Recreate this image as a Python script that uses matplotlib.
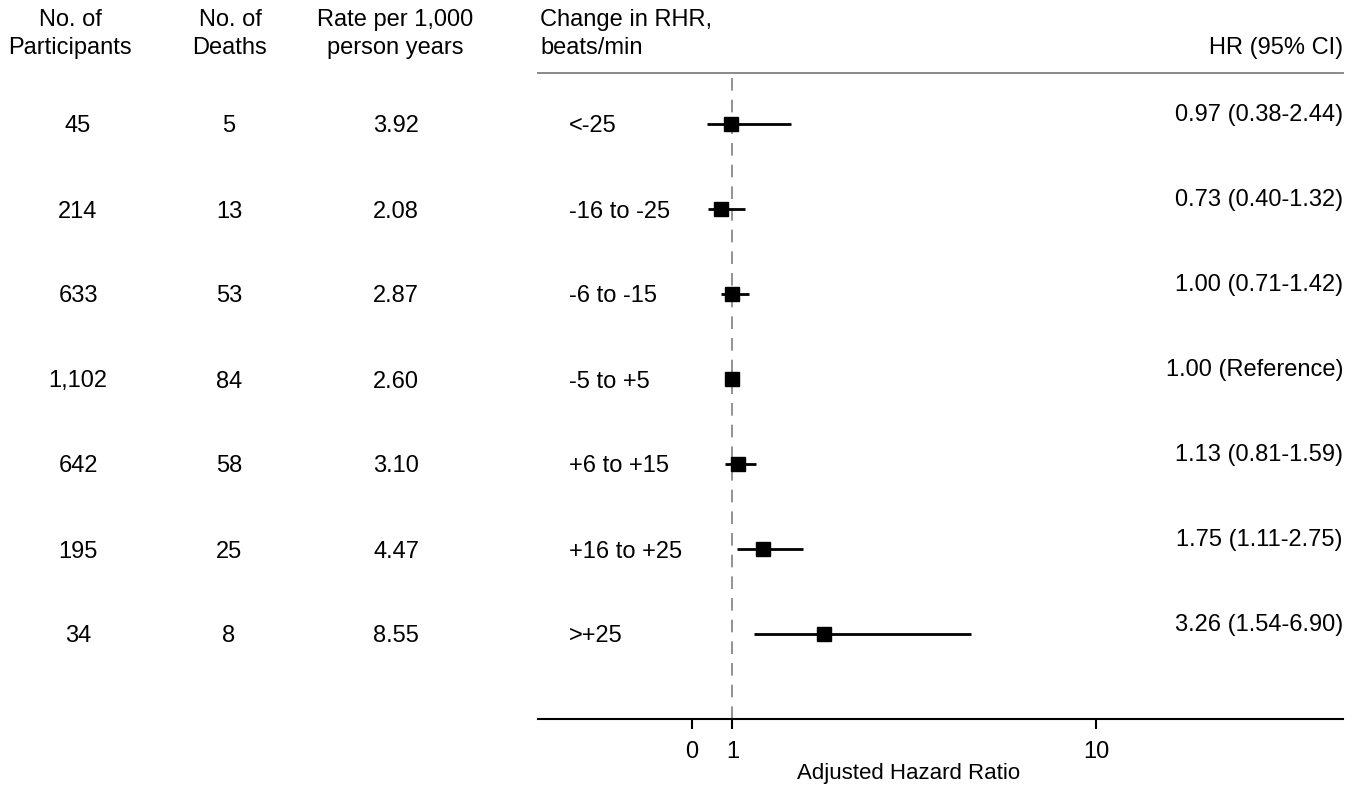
from matplotlib import pyplot as plt
import matplotlib.transforms as mtransforms
import numpy as np

plt.rcParams['font.family'] = ['Liberation Sans', 'DejaVu Sans']

# data
participants = ['45', '214', '633', '1,102', '642', '195', '34']
deaths = ['5', '13', '53', '84', '58', '25', '8']
rates = ['3.92', '2.08', '2.87', '2.60', '3.10', '4.47', '8.55']
rhr_change = ['<-25', '-16 to -25', '-6 to -15', '-5 to +5', '+6 to +15', '+16 to +25', '>+25']
hr = [0.97, 0.73, 1.00, 1.00, 1.13, 1.75, 3.26]
ci_low = [0.38, 0.40, 0.71, np.nan, 0.81, 1.11, 1.54]
ci_high = [2.44, 1.32, 1.42, np.nan, 1.59, 2.75, 6.90]
reference_row = 3

W, H = 1371, 789
fig = plt.figure(figsize=(W / 100, H / 100), dpi=100)

left, right, top, bottom = 538, 1343, 73, 719
ax = fig.add_axes([left / W, 1 - bottom / H, (right - left) / W, (bottom - top) / H])

rows = np.arange(len(hr))
ax.set_xlim(-3.81, 16.11)
ax.set_ylim(7.0, -0.6)

# dashed null line
ax.axvline(1, color='#8a8a8a', lw=1.3, ls=(0, (7, 5)), zorder=1)

# CIs and squares
for i in rows:
    if not np.isnan(ci_low[i]):
        ax.plot([ci_low[i], ci_high[i]], [i, i], color='black', lw=2.0, zorder=2,
                solid_capstyle='butt')
ax.plot(hr, rows, ls='none', marker='s', ms=10.5, color='black', zorder=3)

# spines
for s in ['left', 'right']:
    ax.spines[s].set_visible(False)
ax.spines['top'].set_color('#8a8a8a')
ax.spines['top'].set_linewidth(1.4)
ax.spines['bottom'].set_linewidth(1.5)
ax.set_yticks([])
ax.set_xticks([0, 1, 10])
ax.tick_params(axis='x', direction='out', length=7, width=1.5, pad=9, labelsize=17)
ax.set_xlabel('Adjusted Hazard Ratio', fontsize=16)
ax.xaxis.set_label_coords(0.46, -0.068)

fs = 17
# x in figure pixels / W, y in data rows
trans = mtransforms.blended_transform_factory(fig.transFigure, ax.transData)

for i in rows:
    ax.text(78 / W, i, participants[i], transform=trans, ha='center', va='center_baseline', fontsize=fs)
    ax.text(229 / W, i, deaths[i], transform=trans, ha='center', va='center_baseline', fontsize=fs)
    ax.text(396 / W, i, rates[i], transform=trans, ha='center', va='center_baseline', fontsize=fs)
    ax.text(569 / W, i, rhr_change[i], transform=trans, ha='left', va='center_baseline', fontsize=fs)
    if i == reference_row:
        label = f'{hr[i]:.2f} (Reference)'
    else:
        label = f'{hr[i]:.2f} ({ci_low[i]:.2f}-{ci_high[i]:.2f})'
    ax.text(right / W, i - 0.14, label, transform=trans, ha='right', va='center_baseline', fontsize=fs)

# column headers
hs = 17
hy = 1 - 34 / H
fig.text(70 / W, hy, 'No. of\nParticipants', ha='center', va='center', fontsize=hs, linespacing=1.35)
fig.text(230 / W, hy, 'No. of\nDeaths', ha='center', va='center', fontsize=hs, linespacing=1.35)
fig.text(395 / W, hy, 'Rate per 1,000\nperson years', ha='center', va='center', fontsize=hs, linespacing=1.35)
fig.text(540 / W, hy, 'Change in RHR,\nbeats/min', ha='left', va='center', fontsize=hs, linespacing=1.35)
fig.text(right / W, 1 - 48 / H, 'HR (95% CI)', ha='right', va='center', fontsize=hs)

plt.savefig('out.png', dpi=100)
